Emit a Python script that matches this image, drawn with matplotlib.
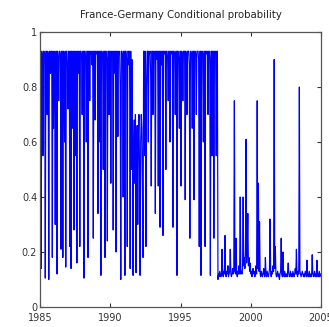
"""France-Germany conditional probability (regime-switching), MATLAB-style line plot."""
import matplotlib
matplotlib.use("Agg")
import matplotlib.pyplot as plt  # noqa: E402
import numpy as np  # noqa: E402

# half-monthly observations starting Jan 1985
START = 1985.0
STEP = 1.0 / 24

# high-volatility regime, 1985 - mid 1997
prob_high = [
    0.93, 0.93, 0.14, 0.93, 0.90, 0.55, 0.93, 0.93, 0.92, 0.105, 0.93, 0.93, 0.70, 0.93, 0.92, 0.10, 0.93, 0.93, 0.85, 0.93,
    0.93, 0.18, 0.93, 0.65, 0.93, 0.92, 0.30, 0.93, 0.93, 0.12, 0.93, 0.90, 0.75, 0.93, 0.93, 0.92, 0.21, 0.93, 0.93, 0.18,
    0.93, 0.92, 0.60, 0.93, 0.145, 0.93, 0.93, 0.88, 0.72, 0.93, 0.93, 0.22, 0.93, 0.14, 0.93, 0.93, 0.65, 0.93, 0.28, 0.93,
    0.93, 0.55, 0.93, 0.16, 0.93, 0.93, 0.85, 0.93, 0.22, 0.93, 0.93, 0.92, 0.70, 0.93, 0.93, 0.105, 0.93, 0.93, 0.90, 0.60,
    0.93, 0.93, 0.18, 0.93, 0.93, 0.75, 0.93, 0.92, 0.93, 0.88, 0.93, 0.25, 0.93, 0.93, 0.68, 0.93, 0.93, 0.92, 0.93, 0.34,
    0.93, 0.60, 0.93, 0.93, 0.115, 0.93, 0.93, 0.92, 0.50, 0.93, 0.93, 0.18, 0.93, 0.93, 0.90, 0.24, 0.93, 0.93, 0.70, 0.93,
    0.93, 0.45, 0.93, 0.92, 0.93, 0.28, 0.93, 0.93, 0.85, 0.93, 0.20, 0.93, 0.93, 0.62, 0.93, 0.92, 0.93, 0.80, 0.10, 0.93,
    0.93, 0.92, 0.40, 0.93, 0.93, 0.115, 0.93, 0.93, 0.90, 0.22, 0.93, 0.93, 0.88, 0.93, 0.14, 0.93, 0.50, 0.90, 0.55, 0.115,
    0.60, 0.68, 0.45, 0.70, 0.125, 0.55, 0.66, 0.30, 0.62, 0.70, 0.50, 0.115, 0.60, 0.70, 0.65, 0.45, 0.18, 0.93, 0.93, 0.55,
    0.93, 0.22, 0.80, 0.93, 0.93, 0.60, 0.93, 0.92, 0.93, 0.85, 0.44, 0.93, 0.93, 0.70, 0.93, 0.92, 0.93, 0.34, 0.93, 0.93,
    0.90, 0.93, 0.44, 0.93, 0.93, 0.29, 0.93, 0.93, 0.88, 0.93, 0.26, 0.93, 0.93, 0.92, 0.93, 0.50, 0.93, 0.93, 0.90, 0.75,
    0.93, 0.93, 0.60, 0.93, 0.92, 0.93, 0.93, 0.29, 0.93, 0.93, 0.92, 0.70, 0.93, 0.93, 0.115, 0.93, 0.93, 0.90, 0.65, 0.93,
    0.93, 0.44, 0.93, 0.92, 0.75, 0.93, 0.93, 0.93, 0.39, 0.93, 0.92, 0.70, 0.93, 0.93, 0.93, 0.88, 0.25, 0.93, 0.93, 0.92,
    0.65, 0.93, 0.93, 0.39, 0.93, 0.93, 0.92, 0.70, 0.93, 0.93, 0.93, 0.90, 0.22, 0.93, 0.93, 0.115, 0.93, 0.93, 0.92, 0.60,
    0.93, 0.93, 0.22, 0.93, 0.93, 0.92, 0.93, 0.70, 0.93, 0.93, 0.90, 0.115, 0.93, 0.93, 0.55, 0.93, 0.93, 0.25, 0.93, 0.92,
    0.93, 0.55, 0.93, 0.93, 0.10,
]

# low regime after mid 1997, with occasional spikes
prob_low = [
    0.12, 0.11, 0.13, 0.12, 0.11, 0.12, 0.21, 0.12, 0.11, 0.13, 0.12, 0.26, 0.12, 0.11, 0.13, 0.12, 0.15, 0.11, 0.12, 0.13,
    0.21, 0.12, 0.11, 0.12, 0.14, 0.12, 0.13, 0.75, 0.13, 0.12, 0.25, 0.12, 0.11, 0.13, 0.12, 0.15, 0.12, 0.40, 0.12, 0.13,
    0.12, 0.14, 0.40, 0.15, 0.18, 0.14, 0.20, 0.61, 0.16, 0.22, 0.34, 0.15, 0.18, 0.13, 0.16, 0.12, 0.13, 0.11, 0.12, 0.14,
    0.12, 0.13, 0.11, 0.12, 0.15, 0.12, 0.75, 0.14, 0.45, 0.13, 0.31, 0.12, 0.11, 0.13, 0.12, 0.11, 0.12, 0.14, 0.12, 0.11,
    0.18, 0.12, 0.11, 0.13, 0.12, 0.11, 0.12, 0.14, 0.32, 0.12, 0.11, 0.13, 0.12, 0.15, 0.13, 0.90, 0.14, 0.22, 0.12, 0.11,
    0.12, 0.13, 0.11, 0.12, 0.10, 0.12, 0.13, 0.25, 0.12, 0.11, 0.20, 0.12, 0.11, 0.13, 0.12, 0.11, 0.12, 0.11, 0.13, 0.16,
    0.12, 0.11, 0.12, 0.13, 0.11, 0.12, 0.11, 0.13, 0.12, 0.11, 0.12, 0.14, 0.12, 0.21, 0.12, 0.11, 0.13, 0.12, 0.80, 0.13,
    0.12, 0.11, 0.12, 0.13, 0.12, 0.11, 0.12, 0.11, 0.13, 0.12, 0.11, 0.17, 0.12, 0.11, 0.12, 0.13, 0.11, 0.12, 0.11, 0.12,
    0.19, 0.12, 0.11, 0.12, 0.13, 0.11, 0.12, 0.11, 0.17, 0.12, 0.11, 0.12, 0.13, 0.11, 0.12,
]

XTICKS = [1985, 1990, 1995, 2000, 2005]
YTICKS = [0, 0.2, 0.4, 0.6, 0.8, 1]
YTICKLABELS = ["0", "0.2", "0.4", "0.6", "0.8", "1"]


def main():
    prob = np.array(prob_high + prob_low)
    years = START + STEP * np.arange(len(prob))

    fig = plt.figure(figsize=(3.29, 3.27), dpi=100)
    ax = fig.add_axes([0.1216, 0.0612, 0.8541, 0.8409])
    ax.plot(years, prob, color="#0000ff", lw=0.85)

    ax.set_xlim(1985, 2005)
    ax.set_ylim(0, 1)
    ax.set_xticks(XTICKS)
    ax.set_yticks(YTICKS)
    ax.set_yticklabels(YTICKLABELS)
    ax.tick_params(direction="in", length=3, width=0.8, labelsize=7,
                   top=True, right=True, colors="#333333", pad=2)
    ax.tick_params(axis="x", pad=4)
    for s in ax.spines.values():
        s.set_color("#555555")
        s.set_linewidth(0.9)
    ax.set_title("France-Germany Conditional probability", fontsize=7.3, pad=10, color="#222222")

    fig.savefig("out.png", dpi=100)


if __name__ == "__main__":
    main()
